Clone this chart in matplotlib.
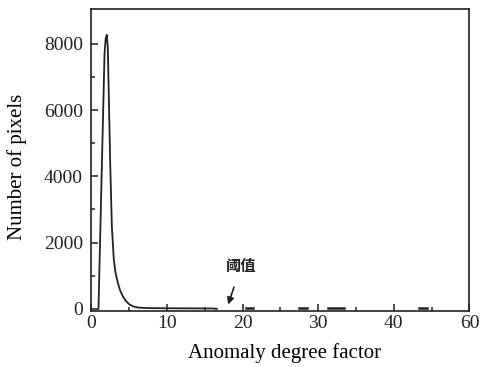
import matplotlib
matplotlib.use("Agg")
import matplotlib.pyplot as plt
import numpy as np
from matplotlib.ticker import FixedLocator

# main histogram curve
x_main = [0.95, 1.75, 1.9, 2.05, 2.18, 2.33, 2.5, 2.72, 2.98, 3.2, 3.51, 3.8, 4.17, 4.6, 5.06, 5.6, 6.2, 7.0, 8.0, 10.0, 12.0, 14.0, 16.0, 16.6]
y_main = [0, 7700, 8150, 8270, 7900, 6300, 4400, 2490, 1480, 1100, 790, 560, 380, 230, 130, 70, 40, 28, 22, 18, 16, 14, 12, 0]

# small sparse bumps at large factors
x_bumps = [20.4, 21.4, np.nan, 27.4, 28.5, np.nan, 31.3, 33.4, np.nan, 43.3, 44.4]
y_bumps = [30, 30, np.nan, 30, 30, np.nan, 30, 30, np.nan, 30, 30]

x_ticks = [0, 10, 20, 30, 40, 50]
x_tick_labels = ["0", "10", "20", "30", "40", "60"]
x_minor = [5, 15, 25, 35, 45]
y_ticks = [0, 2000, 4000, 6000, 8000]
y_minor = [1000, 3000, 5000, 7000]

plt.rcParams['font.family'] = ['Liberation Serif', 'Noto Sans CJK SC']

fig = plt.figure(figsize=(4.83, 3.67), dpi=100)
ax = fig.add_axes([0.189, 0.153, 0.783, 0.8225])

ax.plot(x_main, y_main, color='#222222', lw=1.3)
ax.plot(x_bumps, y_bumps, color='#222222', lw=1.8)

ax.set_xlim(0, 50)
ax.set_ylim(-60, 9050)
ax.set_xticks(x_ticks)
ax.set_xticklabels(x_tick_labels)
ax.set_yticks(y_ticks)
ax.xaxis.set_minor_locator(FixedLocator(x_minor))
ax.yaxis.set_minor_locator(FixedLocator(y_minor))
ax.tick_params(which='both', direction='in', top=False, right=False, labelsize=14, colors='#222222')
ax.tick_params(axis='x', which='major', length=5, width=1.1, pad=3)
ax.tick_params(axis='y', which='major', length=5, width=1.1, pad=6)
ax.tick_params(which='minor', length=3, width=1.1)
for s in ax.spines.values():
    s.set_linewidth(1.2)
    s.set_color('#222222')

ax.set_xlabel("Anomaly degree factor", fontsize=15)
ax.set_ylabel("Number of pixels", fontsize=15)
ax.xaxis.set_label_coords(0.51, -0.108)
ax.yaxis.set_label_coords(-0.169, 0.478)

ax.annotate("阈值", xy=(18.1, 130), xytext=(19.8, 1300),
            fontsize=11, fontweight='bold', family=['Noto Sans CJK SC'],
            ha='center', va='center', color='#222222',
            arrowprops=dict(arrowstyle='-|>', color='#222222', lw=1.2,
                            mutation_scale=10, shrinkA=8, shrinkB=0))

fig.savefig("out.png", dpi=100)
